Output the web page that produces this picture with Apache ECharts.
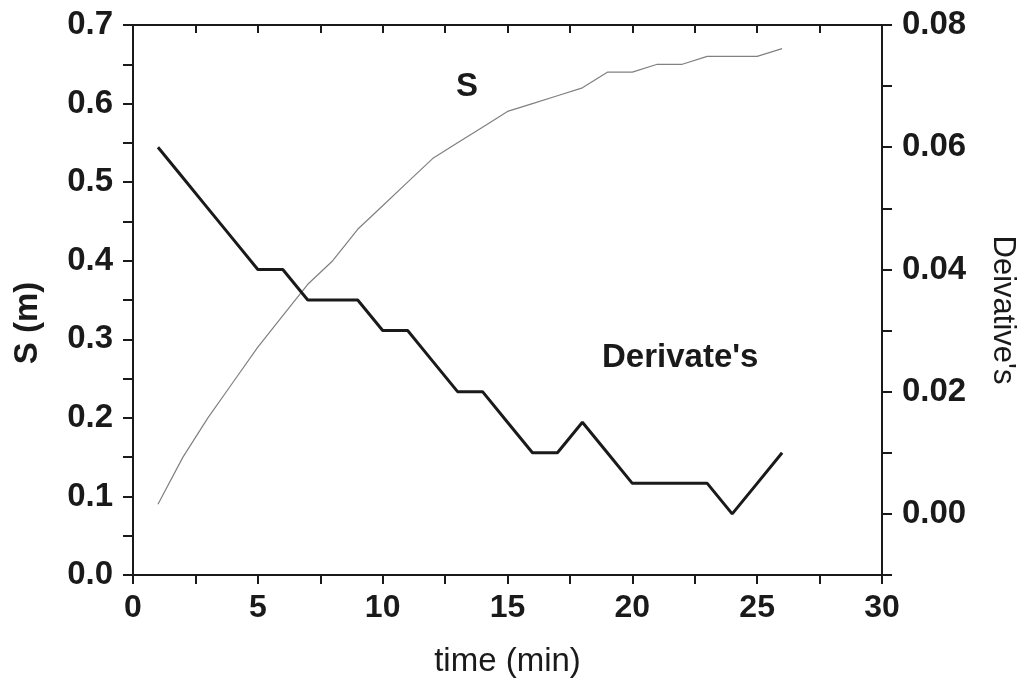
<!DOCTYPE html>
<html>
<head>
<meta charset="utf-8">
<script src="https://cdn.jsdelivr.net/npm/echarts@6/dist/echarts.min.js"></script>
<style>
  html, body { margin: 0; padding: 0; background: #fff; }
  #chart { width: 1033px; height: 691px; }
</style>
</head>
<body>
<div id="chart"></div>
<script>
// time (min)
const timeMin = [1, 2, 3, 4, 5, 6, 7, 8, 9, 10, 11, 12, 13, 14, 15, 16, 17, 18, 19, 20, 21, 22, 23, 24, 25, 26];
// S (m), left axis
const sValues = [0.09, 0.15, 0.20, 0.245, 0.29, 0.33, 0.37, 0.40, 0.44, 0.47, 0.50, 0.53, 0.55, 0.57, 0.59, 0.60, 0.61, 0.62, 0.64, 0.64, 0.65, 0.65, 0.66, 0.66, 0.66, 0.67];
// derivative, right axis
const derivValues = [0.06, 0.055, 0.05, 0.045, 0.04, 0.04, 0.035, 0.035, 0.035, 0.03, 0.03, 0.025, 0.02, 0.02, 0.015, 0.01, 0.01, 0.015, 0.01, 0.005, 0.005, 0.005, 0.005, 0, 0.005, 0.01];

const font = 'Liberation Sans, Arial, sans-serif';
const ink = '#1a1a1a';

const chart = echarts.init(document.getElementById('chart'));

const axisLine = { show: true, onZero: false, lineStyle: { color: ink, width: 2 } };
const tickStyle = { color: ink, width: 2 };
const tickLabel = { color: ink, fontFamily: font, fontWeight: 'bold', fontSize: 33 };

chart.setOption({
    animation: false,
    backgroundColor: '#fff',
    grid: { left: 133, right: 151, top: 25, bottom: 116 },
    xAxis: [{
        type: 'value',
        min: 0,
        max: 30,
        interval: 2.5,
        name: 'time (min)',
        nameLocation: 'middle',
        nameGap: 70,
        nameTextStyle: { color: ink, fontFamily: font, fontSize: 33 },
        axisLine: axisLine,
        axisTick: { show: true, inside: false, length: 9, lineStyle: tickStyle },
        axisLabel: Object.assign({}, tickLabel, {
            fontSize: 32,
            margin: 17,
            formatter: (v) => (v % 5 === 0 ? String(v) : '')
        }),
        splitLine: { show: false }
    }, {
        type: 'value',
        position: 'top',
        min: 0,
        max: 30,
        interval: 2.5,
        axisLine: axisLine,
        axisTick: { show: true, inside: true, length: 8, lineStyle: tickStyle },
        axisLabel: { show: false },
        splitLine: { show: false }
    }],
    yAxis: [{
        type: 'value',
        position: 'left',
        min: 0,
        max: 0.7,
        interval: 0.05,
        axisLine: axisLine,
        axisTick: { show: true, inside: false, length: 10, lineStyle: tickStyle },
        axisLabel: Object.assign({}, tickLabel, {
            margin: 20,
            formatter: (v) => (Math.round(v * 100) % 10 === 0 ? v.toFixed(1) : '')
        }),
        splitLine: { show: false }
    }, {
        type: 'value',
        position: 'right',
        min: -0.01,
        max: 0.08,
        interval: 0.01,
        axisLine: axisLine,
        axisTick: { show: true, inside: false, length: 10, lineStyle: tickStyle },
        axisLabel: Object.assign({}, tickLabel, {
            margin: 20,
            formatter: (v) => {
                const c = Math.round(v * 100);
                return c >= 0 && c % 2 === 0 ? (c / 100).toFixed(2) : '';
            }
        }),
        splitLine: { show: false }
    }],
    graphic: [{
        type: 'text',
        x: 28,
        y: 323,
        rotation: Math.PI / 2,
        style: { text: 'S (m)', fill: ink, font: 'bold 33px ' + font, align: 'center', verticalAlign: 'middle' }
    }, {
        type: 'text',
        x: 1003,
        y: 310,
        rotation: -Math.PI / 2,
        style: { text: "Deivative's", fill: ink, font: '31px ' + font, align: 'center', verticalAlign: 'middle' }
    }, {
        type: 'text',
        x: 456,
        y: 87,
        style: { text: 'S', fill: ink, font: 'bold 33px ' + font, align: 'left', verticalAlign: 'middle' }
    }, {
        type: 'text',
        x: 602,
        y: 358,
        style: { text: "Derivate's", fill: ink, font: 'bold 33px ' + font, align: 'left', verticalAlign: 'middle' }
    }],
    series: [{
        name: 'S',
        type: 'line',
        xAxisIndex: 0,
        yAxisIndex: 0,
        showSymbol: false,
        lineStyle: { color: '#808080', width: 1.2 },
        data: timeMin.map((t, i) => [t, sValues[i]])
    }, {
        name: "Derivate's",
        type: 'line',
        xAxisIndex: 0,
        yAxisIndex: 1,
        showSymbol: false,
        lineStyle: { color: ink, width: 3 },
        data: timeMin.map((t, i) => [t, derivValues[i]])
    }]
});
</script>
</body>
</html>
